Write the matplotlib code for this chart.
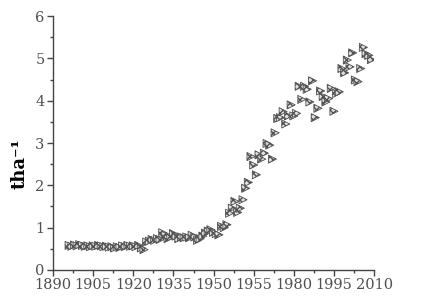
import numpy as np
import matplotlib
matplotlib.use('Agg')
import matplotlib.pyplot as plt

# yield data, t/ha per year
years = np.arange(1896, 2010)
yields = [
    0.58, 0.56, 0.59, 0.57, 0.60, 0.58, 0.56, 0.57, 0.55, 0.57,   # 1896-1905
    0.56, 0.58, 0.57, 0.55, 0.56, 0.54, 0.55, 0.52, 0.55, 0.53,   # 1906-1915
    0.57, 0.55, 0.58, 0.56, 0.57, 0.55, 0.58, 0.52, 0.48, 0.66,   # 1916-1925
    0.68, 0.72, 0.70, 0.74, 0.72, 0.88, 0.82, 0.74, 0.78, 0.86,   # 1926-1935
    0.80, 0.74, 0.78, 0.76, 0.78, 0.76, 0.82, 0.78, 0.70, 0.74,   # 1936-1945
    0.80, 0.87, 0.92, 0.95, 0.89, 0.86, 0.83, 1.03, 1.00, 1.07,   # 1946-1955
    1.34, 1.46, 1.62, 1.36, 1.46, 1.66, 1.93, 2.07, 2.68, 2.48,   # 1956-1965
    2.25, 2.72, 2.62, 2.76, 2.99, 2.95, 2.62, 3.24, 3.58, 3.60,   # 1966-1975
    3.74, 3.45, 3.64, 3.90, 3.64, 3.70, 4.34, 4.03, 4.34, 4.27,   # 1976-1985
    3.97, 4.47, 3.60, 3.82, 4.23, 4.10, 3.97, 4.05, 4.29, 3.75,   # 1986-1995
    4.17, 4.21, 4.76, 4.66, 4.96, 4.80, 5.13, 4.49, 4.45, 4.76,   # 1996-2005
    5.26, 5.11, 5.07, 4.97,                                       # 2006-2009
]
xticks = [1890, 1905, 1920, 1935, 1950, 1965, 1980, 1995, 2010]
xticklabels = ['1890', '1905', '1920', '1935', '1950', '1955', '1980', '1995', '2010']
yticks = [0, 1, 2, 3, 4, 5, 6]

fig = plt.figure(figsize=(4.35, 3.03), dpi=100)
ax = fig.add_axes([0.122, 0.109, 0.738, 0.838])

ax.scatter(years, yields, marker='>', s=34, facecolors='#e0e0e0',
           edgecolors='#505050', linewidths=0.6, hatch='xxxxx', zorder=3)

ax.set_xlim(1890, 2010)
ax.set_ylim(0, 6)
ax.set_xticks(xticks)
ax.set_xticklabels(xticklabels)
ax.set_xticks(np.arange(1897.5, 2010, 15), minor=True)
ax.set_yticks(yticks)
ax.set_yticks(np.arange(0.5, 6, 1), minor=True)

for sp in ['top', 'right']:
    ax.spines[sp].set_visible(False)
for sp in ['left', 'bottom']:
    ax.spines[sp].set_color('#444444')
    ax.spines[sp].set_linewidth(1.0)

ax.tick_params(which='major', direction='out', length=4, width=1, color='#444444',
               labelsize=10.5, labelcolor='#505050', pad=2)
ax.tick_params(which='minor', direction='out', length=2, width=1, color='#444444')
for lab in ax.get_xticklabels() + ax.get_yticklabels():
    lab.set_fontfamily('DejaVu Serif')

ax.set_ylabel('tha⁻¹', fontsize=13, fontweight='bold', fontfamily='DejaVu Serif')
ax.yaxis.set_label_coords(-0.075, 0.42)

fig.savefig('out.png', dpi=100)
